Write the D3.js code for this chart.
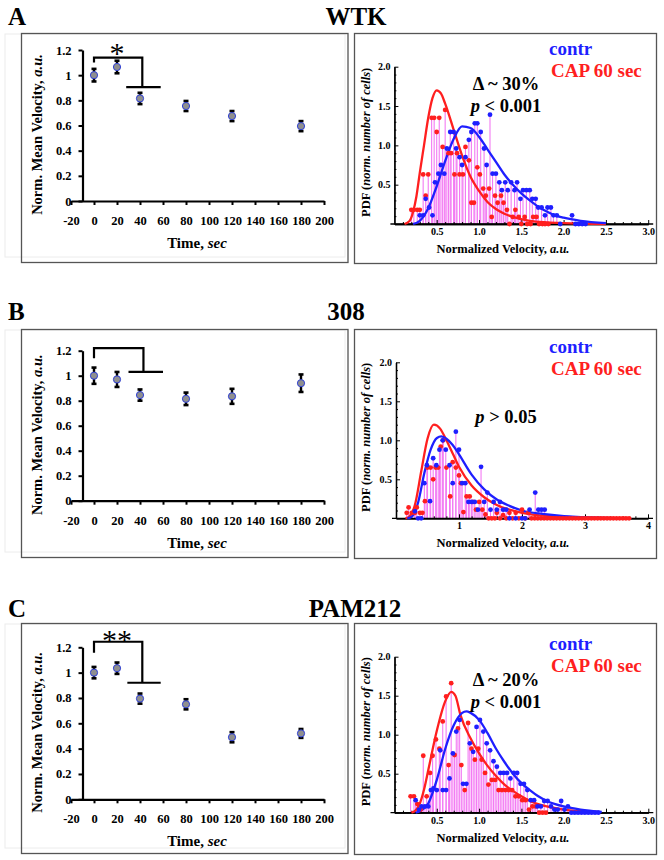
<!DOCTYPE html>
<html><head><meta charset="utf-8">
<script src="https://cdn.jsdelivr.net/npm/d3@7"></script>
<style>
body{margin:0;background:#fff}
svg{display:block}
</style>
</head><body>
<svg id="c" width="664" height="860" font-family='"Liberation Serif","Times New Roman",serif' font-weight="bold"></svg>
<script>
// ---------- DATA ----------
const panelLetters = ["A","B","C"];
const panelTitles = ["WTK","308","PAM212"];
const timeCats = [0,20,40,80,120,180];
const timeTicks = [-20,0,20,40,60,80,100,120,140,160,180,200];
const velTicks = [0,0.2,0.4,0.6,0.8,1,1.2];

const meanA = [1.0,1.065,0.815,0.755,0.675,0.595];
const errA  = [0.05,0.05,0.045,0.04,0.04,0.04];
const meanB = [1.0,0.97,0.845,0.815,0.835,0.94];
const errB  = [0.065,0.06,0.045,0.05,0.06,0.07];
const meanC = [1.0,1.035,0.795,0.75,0.49,0.52];
const errC  = [0.045,0.045,0.04,0.04,0.04,0.035];

// significance brackets: [leftX, leftBottom, top, rightX, rightBottom, barFrom, barTo]
const bracketA = [0,1.10,1.14,42,0.905,28,58];
const bracketB = [0,1.14,1.22,43,1.03,30,60];
const bracketC = [0,1.157,1.244,42,0.92,29,58];
const starsA = {label:"*", x:20, y:1.215};
const starsC = {label:"**", x:20, y:1.30};

// PDF panels: [velocity, pdf]
const blueA = [[0.30,0.11],[0.34,0.11],[0.37,0.32],[0.41,0.21],[0.45,0.11],[0.48,0.53],[0.52,0.64],[0.55,0.75],[0.59,0.64],[0.62,0.96],[0.66,1.17],[0.70,1.17],[0.73,0.96],[0.77,0.85],[0.80,0.75],[0.84,0.85],[0.88,1.07],[0.91,1.17],[0.95,1.28],[0.98,1.28],[1.02,1.17],[1.06,0.96],[1.09,0.75],[1.13,1.39],[1.16,0.64],[1.20,0.64],[1.24,0.53],[1.27,0.43],[1.31,0.53],[1.34,0.43],[1.38,0.53],[1.42,0.43],[1.45,0.53],[1.49,0.32],[1.52,0.43],[1.56,0.43],[1.60,0.43],[1.63,0.32],[1.67,0.32],[1.70,0.21],[1.74,0.21],[1.78,0.11],[1.81,0.21],[1.85,0.21],[1.88,0.11],[1.92,0.11],[1.96,0],[2.10,0.11],[2.14,0],[2.18,0],[2.22,0],[2.26,0]];
const redA = [[0.20,0.18],[0.23,0.18],[0.27,0.18],[0.30,0.18],[0.34,0.63],[0.37,0.36],[0.40,0.63],[0.44,1.35],[0.47,1.35],[0.50,1.17],[0.53,1.35],[0.57,0.98],[0.60,1.45],[0.64,0.90],[0.67,0.90],[0.71,0.63],[0.74,0.90],[0.77,0.63],[0.81,0.63],[0.84,0.98],[0.88,0.81],[0.91,0.27],[0.94,0.27],[0.98,0.72],[1.01,0.63],[1.05,0.45],[1.08,0.36],[1.12,0.45],[1.15,0.09],[1.19,0.36],[1.22,0.27],[1.26,0.36],[1.29,0.27],[1.33,0.18],[1.36,0],[1.40,0.09],[1.43,0.18],[1.47,0.09],[1.50,0],[1.54,0.09],[1.57,0],[1.61,0],[1.64,0.09],[1.68,0.09],[1.71,0],[1.75,0],[1.78,0],[1.82,0]];
const blueFitA = [[0.22,0],[0.3,0.04],[0.4,0.2],[0.5,0.48],[0.6,0.8],[0.7,1.08],[0.8,1.24],[0.9,1.22],[1.0,1.11],[1.1,0.95],[1.2,0.79],[1.3,0.63],[1.4,0.5],[1.5,0.39],[1.6,0.3],[1.7,0.22],[1.8,0.16],[1.9,0.11],[2.0,0.08],[2.2,0.04],[2.5,0.01]];
const redFitA = [[0.12,0],[0.18,0.04],[0.22,0.15],[0.26,0.35],[0.3,0.65],[0.35,1.0],[0.4,1.35],[0.45,1.6],[0.5,1.7],[0.55,1.66],[0.6,1.53],[0.7,1.2],[0.8,0.87],[0.9,0.6],[1.0,0.42],[1.1,0.28],[1.2,0.19],[1.3,0.13],[1.4,0.09],[1.6,0.04],[1.8,0.02],[2.0,0.01],[2.5,0]];

const blueB = [[0.30,0.09],[0.35,0],[0.40,0],[0.45,0.45],[0.49,0.68],[0.54,0.22],[0.59,0.77],[0.64,0.68],[0.69,0.88],[0.74,1.0],[0.79,0.88],[0.85,0.68],[0.90,0.45],[0.95,1.11],[1.00,0.88],[1.05,0.45],[1.10,0.45],[1.15,0.21],[1.20,0.21],[1.25,0.21],[1.30,0.11],[1.35,0.66],[1.40,0.21],[1.45,0.33],[1.50,0.11],[1.55,0.21],[1.60,0.11],[1.65,0.21],[1.70,0.11],[1.75,0.11],[1.80,0],[1.90,0],[2.00,0],[2.05,0],[2.12,0.11],[2.21,0.33],[2.26,0.11],[2.31,0.11],[2.36,0.11]];
const redB = [[0.17,0.07],[0.20,0.14],[0.25,0.07],[0.30,0.07],[0.33,0.14],[0.38,0.07],[0.42,0.07],[0.46,0.22],[0.50,0.65],[0.55,0.65],[0.59,0.50],[0.63,0.65],[0.67,0.65],[0.71,0.92],[0.75,1.0],[0.80,0.65],[0.86,0.28],[0.90,0.72],[0.95,0.65],[1.00,0.55],[1.03,0.45],[1.07,0.08],[1.12,0.28],[1.17,0.28],[1.22,0.21],[1.27,0.11],[1.32,0.21],[1.37,0.11],[1.42,0.05],[1.47,0],[1.52,0],[1.57,0],[1.60,0.07],[1.65,0],[1.70,0.04],[1.75,0],[1.80,0.07],[1.85,0],[1.90,0.07],[1.95,0],[2.00,0.11],[2.05,0],[2.10,0.07],[2.15,0],[2.20,0],[2.25,0],[2.30,0],[2.35,0],[2.40,0],[2.45,0],[2.50,0],[2.55,0],[2.60,0],[2.65,0],[2.70,0],[2.75,0],[2.80,0],[2.85,0],[2.90,0],[2.95,0],[3.00,0],[3.05,0],[3.10,0],[3.15,0],[3.20,0],[3.25,0],[3.30,0],[3.35,0],[3.40,0],[3.45,0],[3.50,0],[3.55,0],[3.60,0],[3.65,0],[3.70,0]];
const blueFitB = [[0.18,0],[0.25,0.02],[0.35,0.2],[0.45,0.58],[0.55,0.88],[0.65,1.03],[0.72,1.05],[0.8,1.02],[0.9,0.94],[1.0,0.82],[1.2,0.56],[1.4,0.37],[1.6,0.24],[1.8,0.16],[2.0,0.1],[2.4,0.05],[3.0,0.01],[3.7,0]];
const redFitB = [[0.15,0],[0.22,0.03],[0.3,0.17],[0.4,0.6],[0.5,1.02],[0.6,1.2],[0.7,1.15],[0.8,1.0],[0.9,0.83],[1.0,0.66],[1.2,0.42],[1.4,0.27],[1.6,0.17],[1.8,0.11],[2.0,0.07],[2.4,0.03],[3.0,0.01],[3.7,0]];

const blueC = [[0.25,0.16],[0.29,0.04],[0.32,0.08],[0.36,0.08],[0.40,0.08],[0.43,0.29],[0.46,0.31],[0.50,0.29],[0.54,0.80],[0.57,0.29],[0.61,0.29],[0.65,0.44],[0.69,0.76],[0.73,1.04],[0.77,1.19],[0.81,0.37],[0.85,0.37],[0.89,0.89],[0.93,0.78],[0.97,1.10],[1.01,1.19],[1.05,1.04],[1.09,0.89],[1.13,0.80],[1.17,0.66],[1.21,0.59],[1.25,0.51],[1.29,0.51],[1.33,0.51],[1.37,0.44],[1.41,0.51],[1.45,0.51],[1.49,0.37],[1.53,0.37],[1.57,0.29],[1.61,0.16],[1.65,0.16],[1.69,0.08],[1.73,0.08],[1.77,0.15],[1.81,0.15],[1.85,0.08],[1.89,0.04],[1.93,0.04],[1.97,0.15],[2.01,0.04],[2.05,0.08],[2.09,0],[2.13,0],[2.17,0],[2.21,0],[2.25,0],[2.29,0],[2.33,0],[2.37,0],[2.41,0]];
const redC = [[0.19,0.21],[0.23,0.21],[0.27,0.11],[0.31,0.04],[0.34,0.73],[0.38,0.21],[0.42,0.51],[0.45,0.73],[0.49,0.94],[0.53,0.82],[0.57,1.17],[0.61,1.49],[0.64,0.61],[0.67,1.66],[0.71,0.74],[0.75,1.08],[0.79,0.61],[0.83,0.29],[0.87,1.15],[0.91,0.82],[0.95,0.68],[0.99,0.82],[1.03,0.68],[1.07,0.51],[1.11,0.36],[1.15,0.42],[1.19,0.42],[1.23,0.29],[1.27,0.29],[1.31,0.29],[1.35,0.29],[1.39,0.29],[1.43,0.21],[1.47,0.21],[1.51,0.16],[1.55,0.16],[1.59,0.04],[1.63,0.08],[1.67,0.08],[1.71,0],[1.75,0],[1.79,0]];
const blueFitC = [[0.25,0],[0.3,0.02],[0.4,0.12],[0.5,0.42],[0.6,0.82],[0.7,1.12],[0.8,1.28],[0.85,1.3],[0.9,1.28],[1.0,1.19],[1.1,1.02],[1.2,0.82],[1.3,0.65],[1.4,0.5],[1.5,0.38],[1.6,0.29],[1.7,0.21],[1.8,0.15],[1.9,0.11],[2.0,0.08],[2.2,0.04],[2.45,0.01]];
const redFitC = [[0.2,0],[0.25,0.03],[0.3,0.12],[0.35,0.3],[0.4,0.55],[0.5,1.05],[0.6,1.43],[0.67,1.55],[0.72,1.5],[0.78,1.25],[0.9,0.95],[1.0,0.76],[1.1,0.6],[1.2,0.47],[1.3,0.36],[1.4,0.28],[1.5,0.21],[1.6,0.15],[1.8,0.08],[2.0,0.04],[2.4,0.01]];

const pdfTicksY = [0.5,1.0,1.5,2.0];
const pdfMinorY = [0.1,0.2,0.3,0.4,0.6,0.7,0.8,0.9,1.1,1.2,1.3,1.4,1.6,1.7,1.8,1.9];
const velTicks3 = [0.5,1.0,1.5,2.0,2.5,3.0];
const velMinor3 = [0.1,0.2,0.3,0.4,0.6,0.7,0.8,0.9,1.1,1.2,1.3,1.4,1.6,1.7,1.8,1.9,2.1,2.2,2.3,2.4,2.6,2.7,2.8,2.9];
const velTicks4 = [1,2,3,4];
const velMinor4 = [0.2,0.4,0.6,0.8,1.2,1.4,1.6,1.8,2.2,2.4,2.6,2.8,3.2,3.4,3.6,3.8];
const annotations = [["Δ ~ 30%","< 0.001"],[null,"> 0.05"],["Δ ~ 20%","< 0.001"]];
const legendLabels = ["contr","CAP 60 sec"];

// ---------- LAYOUT ----------
const L = [
 {top:33, bot:262, titleY:25, titleX:356, lY0:201, lY12:50, rY0:224, rY2:66.7, rX0:394.4, rXend:648.2, xMax:3, leg1:55, leg2:77, ann1:90, ann2:112},
 {top:329, bot:557, titleY:320, titleX:346, lY0:500.7, lY12:350.7, rY0:518.3, rY2:362.3, rX0:396, rXend:648, xMax:4, leg1:353, leg2:375, ann1:null, ann2:423},
 {top:623, bot:853, titleY:617, titleX:355, lY0:799.3, lY12:647.3, rY0:812.7, rY2:656.7, rX0:394.5, rXend:648.3, xMax:3, leg1:650, leg2:672, ann1:686, ann2:708}
];
const means=[meanA,meanB,meanC], errs=[errA,errB,errC], brackets=[bracketA,bracketB,bracketC], stars=[starsA,null,starsC];
const blues=[blueA,blueB,blueC], reds=[redA,redB,redC], blueFits=[blueFitA,blueFitB,blueFitC], redFits=[redFitA,redFitB,redFitC];

const SERIF='"Liberation Serif","Times New Roman",serif';
const BLUE="#1f1fff", RED="#ff1f1f", STEM="#f37af3";
const svg=d3.select("#c");

function styleAxis(a, fs, dw, tw){
  a.attr("font-family",SERIF).attr("font-weight","bold");
  a.select(".domain").attr("stroke","#000").attr("stroke-width",dw);
  a.selectAll(".tick line").attr("stroke","#000").attr("stroke-width",tw);
  a.selectAll(".tick text").attr("fill","#000").attr("font-size",fs);
}

L.forEach((ly,i)=>{
  const g=svg.append("g");
  // titles
  g.append("text").attr("x",8).attr("y",ly.titleY).attr("font-size",25).text(panelLetters[i]);
  g.append("text").attr("x",ly.titleX).attr("y",ly.titleY).attr("font-size",25).attr("text-anchor","middle").text(panelTitles[i]);

  // ---------- LEFT PANEL ----------
  g.append("rect").attr("x",5).attr("y",ly.top+1).attr("width",340).attr("height",ly.bot-ly.top-6)
    .attr("fill","none").attr("stroke","#ececec").attr("stroke-width",1);
  g.append("rect").attr("x",21.5).attr("y",ly.top+0.5).attr("width",326.5).attr("height",ly.bot-ly.top)
    .attr("fill","none").attr("stroke","#555").attr("stroke-width",1.3);

  const x=d3.scaleLinear().domain([-20,200]).range([71,324]);
  const y=d3.scaleLinear().domain([0,1.2]).range([ly.lY0,ly.lY12]);

  const xa=g.append("g").attr("transform",`translate(0,${y(0)})`)
    .call(d3.axisBottom(x).tickValues(timeTicks).tickSizeInner(4).tickSizeOuter(0).tickPadding(11).tickFormat(d=>String(d)));
  const ya=g.append("g").attr("transform",`translate(${x(-10)},0)`)
    .call(d3.axisLeft(y).tickValues(velTicks).tickSizeInner(4).tickSizeOuter(0).tickPadding(7).tickFormat(d=>String(d)));
  styleAxis(xa,12.5,2.2,2); styleAxis(ya,12.5,2.2,2);

  // axis titles
  const yt=g.append("text").attr("font-size",14.5)
    .attr("transform",`translate(42,${(y(0)+y(1.2))/2+9}) rotate(-90)`).attr("text-anchor","middle");
  yt.append("tspan").text("Norm. Mean Velocity, ");
  yt.append("tspan").attr("font-style","italic").text("a.u.");
  const xt=g.append("text").attr("font-size",15).attr("x",197).attr("y",y(0)+47).attr("text-anchor","middle");
  xt.append("tspan").text("Time, ");
  xt.append("tspan").attr("font-style","italic").text("sec");

  // bracket
  const b=brackets[i];
  g.append("path").attr("fill","none").attr("stroke","#000").attr("stroke-width",2.2)
    .attr("d",`M${x(b[0])},${y(b[1])}V${y(b[2])}H${x(b[3])}V${y(b[4])}`);
  g.append("line").attr("stroke","#000").attr("stroke-width",2.2)
    .attr("x1",x(b[5])).attr("x2",x(b[6])).attr("y1",y(b[4])).attr("y2",y(b[4]));
  if(stars[i]){
    g.append("text").attr("x",x(stars[i].x)).attr("y",y(stars[i].y)+15).attr("text-anchor","middle")
      .attr("font-size",30).attr("font-weight","normal").attr("letter-spacing",0).text(stars[i].label);
  }

  // error bars and points
  const pts=timeCats.map((t,k)=>({t,m:means[i][k],e:errs[i][k]}));
  const eb=g.append("g");
  pts.forEach(p=>{
    eb.append("line").attr("x1",x(p.t)).attr("x2",x(p.t)).attr("y1",y(p.m-p.e)).attr("y2",y(p.m+p.e))
      .attr("stroke","#000").attr("stroke-width",2.4);
    [p.m-p.e,p.m+p.e].forEach(v=>eb.append("line").attr("x1",x(p.t)-2.5).attr("x2",x(p.t)+2.5)
      .attr("y1",y(v)).attr("y2",y(v)).attr("stroke","#000").attr("stroke-width",2.6));
  });
  g.selectAll("circle.m").data(pts).enter().append("circle").attr("class","m")
    .attr("cx",d=>x(d.t)).attr("cy",d=>y(d.m)).attr("r",3.6)
    .attr("fill","#8f8f8f").attr("stroke","#2e3fd6").attr("stroke-width",1);

  // ---------- RIGHT PANEL ----------
  g.append("rect").attr("x",354.5).attr("y",ly.top+0.5).attr("width",302).attr("height",ly.bot-ly.top+1)
    .attr("fill","none").attr("stroke","#555").attr("stroke-width",1.3);

  const xr=d3.scaleLinear().domain([0,ly.xMax]).range([ly.rX0,ly.rXend]);
  const yr=d3.scaleLinear().domain([0,2]).range([ly.rY0,ly.rY2]);
  const majorX = ly.xMax===3?velTicks3:velTicks4, minorX = ly.xMax===3?velMinor3:velMinor4;
  const fmtX = ly.xMax===3?d3.format(".1f"):d3.format("d");

  // stems
  const allPts=[...blues[i],...reds[i]];
  g.append("g").selectAll("line").data(allPts).enter().append("line")
    .attr("x1",d=>xr(d[0])).attr("x2",d=>xr(d[0])).attr("y1",yr(0)).attr("y2",d=>yr(d[1]))
    .attr("stroke",STEM).attr("stroke-width",1.1);

  // axes
  const xra=g.append("g").attr("transform",`translate(0,${yr(0)})`)
    .call(d3.axisBottom(xr).tickValues(majorX).tickSizeInner(-4).tickSizeOuter(0).tickPadding(4).tickFormat(fmtX));
  const xrm=g.append("g").attr("transform",`translate(0,${yr(0)})`)
    .call(d3.axisBottom(xr).tickValues(minorX).tickSizeInner(-2).tickSizeOuter(0).tickFormat(""));
  const yra=g.append("g").attr("transform",`translate(${xr(0)},0)`)
    .call(d3.axisLeft(yr).tickValues(pdfTicksY).tickSizeInner(-4).tickSizeOuter(0).tickPadding(4).tickFormat(d3.format(".1f")));
  const yrm=g.append("g").attr("transform",`translate(${xr(0)},0)`)
    .call(d3.axisLeft(yr).tickValues(pdfMinorY).tickSizeInner(-2).tickSizeOuter(0).tickFormat(""));
  [xra,xrm,yra,yrm].forEach(a=>styleAxis(a,10,1.3,1));
  g.append("line").attr("x1",xr(0)-4).attr("x2",xr(ly.xMax)+5).attr("y1",yr(0)).attr("y2",yr(0))
    .attr("stroke","#000").attr("stroke-width",1.3);

  // fits
  const line=d3.line().x(d=>xr(d[0])).y(d=>yr(d[1])).curve(d3.curveMonotoneX);
  g.append("path").attr("d",line(redFits[i])).attr("fill","none").attr("stroke",RED).attr("stroke-width",2.3);
  g.append("path").attr("d",line(blueFits[i])).attr("fill","none").attr("stroke",BLUE).attr("stroke-width",2.3);

  // dots
  g.append("g").selectAll("circle").data(reds[i]).enter().append("circle")
    .attr("cx",d=>xr(d[0])).attr("cy",d=>yr(d[1])).attr("r",2.4).attr("fill",RED);
  g.append("g").selectAll("circle").data(blues[i]).enter().append("circle")
    .attr("cx",d=>xr(d[0])).attr("cy",d=>yr(d[1])).attr("r",2.4).attr("fill",BLUE);

  // axis titles
  const ryt=g.append("text").attr("font-size",12.5)
    .attr("transform",`translate(370,${(yr(0)+yr(2))/2-3}) rotate(-90)`).attr("text-anchor","middle");
  ryt.append("tspan").text("PDF (");
  ryt.append("tspan").attr("font-style","italic").text("norm. number of cells");
  ryt.append("tspan").text(")");
  const rxt=g.append("text").attr("font-size",12.5).attr("x",503).attr("y",yr(0)+29).attr("text-anchor","middle");
  rxt.append("tspan").text("Normalized Velocity, ");
  rxt.append("tspan").attr("font-style","italic").text("a.u.");

  // legend
  g.append("text").attr("x",549).attr("y",ly.leg1).attr("font-size",19).attr("fill",BLUE).text(legendLabels[0]);
  g.append("text").attr("x",551).attr("y",ly.leg2).attr("font-size",19).attr("fill",RED).text(legendLabels[1]);

  // annotations
  const an=annotations[i];
  if(an[0]) g.append("text").attr("x",506).attr("y",ly.ann1).attr("font-size",18.5).attr("text-anchor","middle").text(an[0]);
  const pt=g.append("text").attr("x",506).attr("y",ly.ann2).attr("font-size",18.5).attr("text-anchor","middle");
  pt.append("tspan").attr("font-style","italic").text("p");
  pt.append("tspan").text(" "+an[1]);
});
</script>
</body></html>
